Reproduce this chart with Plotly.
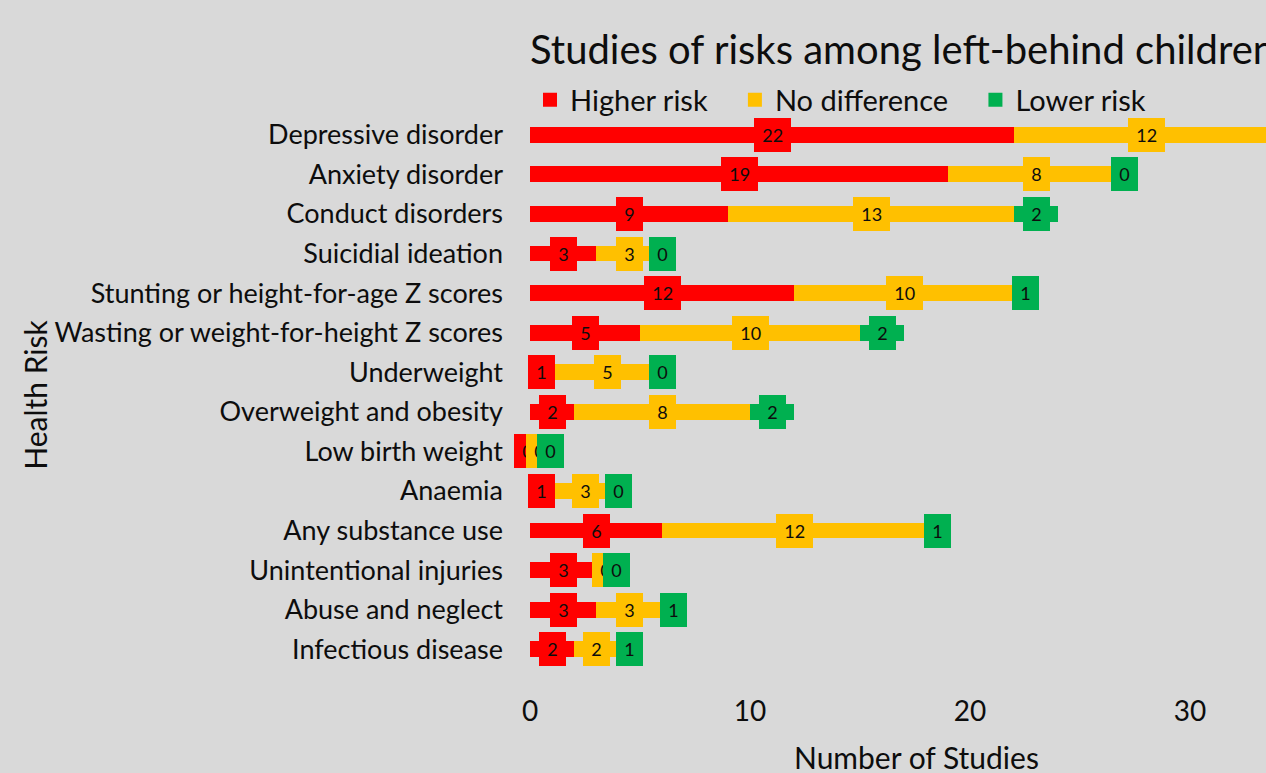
import plotly.graph_objects as go

categories = [
    "Depressive disorder", "Anxiety disorder", "Conduct disorders", "Suicidial ideation",
    "Stunting or height-for-age Z scores", "Wasting or weight-for-height Z scores",
    "Underweight", "Overweight and obesity", "Low birth weight", "Anaemia",
    "Any substance use", "Unintentional injuries", "Abuse and neglect", "Infectious disease",
]
higher_risk = [22, 19, 9, 3, 12, 5, 1, 2, 0, 1, 6, 3, 3, 2]
no_difference = [12, 8, 13, 3, 10, 10, 5, 8, 0, 3, 12, 0, 3, 2]
lower_risk = [1, 0, 2, 0, 1, 2, 0, 2, 0, 0, 1, 0, 1, 1]

series = [
    ("Higher risk", higher_risk, "#FF0000"),
    ("No difference", no_difference, "#FFC000"),
    ("Lower risk", lower_risk, "#00B050"),
]

FONT = "Lato"
TXT = "#0D0D0D"
BG = "#D9D9D9"

fig = go.Figure()
for name, vals, col in series:
    fig.add_trace(go.Bar(
        y=categories, x=vals, orientation="h", name=name,
        marker=dict(color=col, line=dict(width=0)), showlegend=False,
    ))
for name, vals, col in series:
    fig.add_trace(go.Scatter(
        x=[None], y=[None], mode="markers", name=name + "\u00a0\u00a0\u00a0",
        marker=dict(symbol="square", size=14, color=col),
    ))

TS = "\u2009"
annotations = []
for i, cat in enumerate(categories):
    cum = 0
    for k, (name, vals, col) in enumerate(series):
        v = vals[i]
        xc = cum + v / 2
        shift = 0
        if v == 0:
            if k == 0:
                shift = -3
            elif k == 1:
                shift = 9
            else:
                shift = 20 if series[1][1][i] == 0 else 0
        annotations.append(dict(
            x=xc, y=cat, xref="x", yref="y", text=TS + str(v) + TS, showarrow=False,
            bgcolor=col, bordercolor=col, borderwidth=1, borderpad=5,
            font=dict(family=FONT, size=18, color=TXT), xshift=shift,
        ))
        cum += v

annotations.append(dict(
    x=-0.6726, y=0.495, xref="paper", yref="paper", text="Health Risk",
    textangle=-90, showarrow=False, font=dict(family=FONT, size=30, color=TXT),
    xanchor="center", yanchor="middle",
))
annotations.append(dict(
    x=0.5245, y=-0.159, xref="paper", yref="paper", text="Number of Studies",
    showarrow=False, font=dict(family=FONT, size=30, color=TXT),
    xanchor="center", yanchor="middle",
))

fig.update_layout(
    width=1266, height=773,
    paper_bgcolor=BG, plot_bgcolor=BG,
    margin=dict(l=530, r=0, t=115, b=104),
    barmode="stack", bargap=0.6,
    title=dict(text="Studies of risks among left-behind children", x=530 / 1266,
               xanchor="left", y=1 - 50 / 773, yanchor="middle",
               font=dict(family=FONT, size=40, color=TXT)),
    legend=dict(orientation="h", x=0, xanchor="left", y=1 + 15 / 554, yanchor="middle",
                font=dict(family=FONT, size=29, color=TXT), bgcolor="rgba(0,0,0,0)",
                itemwidth=30, traceorder="normal"),
    xaxis=dict(range=[0, 736 / 22], tickvals=[0, 10, 20, 30], showgrid=False,
               zeroline=False, showline=False,
               tickfont=dict(family=FONT, size=28, color=TXT), ticklabelstandoff=23),
    yaxis=dict(autorange="reversed", showgrid=False, zeroline=False, showline=False,
               tickfont=dict(family=FONT, size=27, color=TXT), ticklabelstandoff=26),
    annotations=annotations,
    font=dict(family=FONT, color=TXT),
)

fig.write_html("out.html", config={"displayModeBar": False},
               post_script="document.body.style.margin='0px';")
